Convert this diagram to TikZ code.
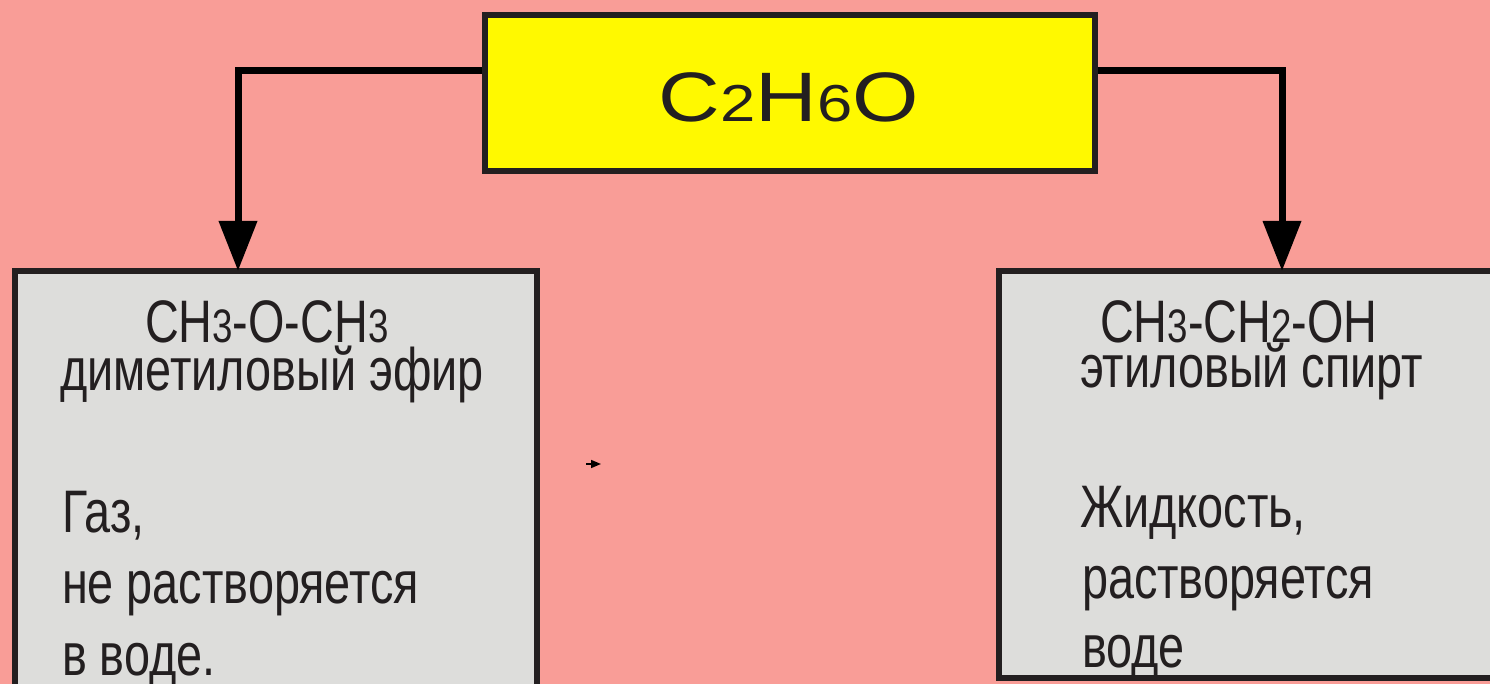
\documentclass[tikz,border=0pt]{standalone}
\usepackage{fontspec}
\setmainfont{Liberation Sans}
\newfontfamily\narrow[FakeStretch=0.78]{Liberation Sans}
\newfontfamily\wide[FakeStretch=1.22]{Liberation Sans}
\usetikzlibrary{arrows.meta}
\definecolor{bgpink}{RGB}{249,157,151}
\definecolor{boxyellow}{RGB}{255,249,0}
\definecolor{boxgray}{RGB}{221,221,219}
\definecolor{edge}{RGB}{35,31,32}
\newcommand{\lbl}{\narrow\fontsize{60}{60}\selectfont}
\newcommand{\sbd}[1]{{\fontsize{47}{47}\selectfont #1}}
\tikzset{
  box/.style={draw=edge, line width=6pt, rectangle, inner sep=0pt, outer sep=0pt, anchor=north west},
  txt/.style={anchor=base west, inner sep=0pt, outer sep=0pt, text=edge, font=\lbl},
  conn/.style={line width=7pt, -{Triangle[length=50pt,width=37pt]}, line join=miter},
}
\begin{document}
\begin{tikzpicture}[x=1pt,y=1pt]
\useasboundingbox (0,0) rectangle (1490,-684);
\clip (0,0) rectangle (1490,-684);
\fill[bgpink] (0,0) rectangle (1490,-684);
% boxes
\node[box, fill=boxyellow, minimum width=610pt, minimum height=156pt] (top) at (485,-15) {};
\node[box, fill=boxgray, minimum width=522pt, minimum height=460pt] (lbox) at (15,-271) {};
\node[box, fill=boxgray, minimum width=520pt, minimum height=407pt] (rbox) at (999,-271) {};
% formula
\node[anchor=base, inner sep=0pt, text=edge] (formula) at (789,-122)
  {\wide\fontsize{70}{70}\selectfont C{\fontsize{52}{52}\selectfont 2}H{\fontsize{52}{52}\selectfont 6}O};
% connectors
\coordinate (L) at (238,-71);
\coordinate (R) at (1282,-71);
\draw[conn] ([xshift=-3pt]top.west |- L) -- (L) -- (L |- lbox.north);
\draw[conn] ([xshift=3pt]top.east |- R) -- (R) -- (R |- rbox.north);
% small stray arrow
\coordinate (sa) at (586,-464);
\coordinate (sb) at (601,-464);
\draw[line width=1.5pt, -{Triangle[length=10pt,width=8pt]}] (sa) -- (sb);
% left texts
\node[txt] (l1) at (145,-342) {CH\sbd{3}-O-CH\sbd{3}};
\node[txt] (l2) at (60,-390) {диметиловый эфир};
\node[txt] (l3) at (62,-532) {Газ,};
\node[txt] (l4) at (62,-603) {не растворяется};
\node[txt] (l5) at (62,-675) {в воде.};
% right texts
\node[txt] (r1) at (1100,-342) {CH\sbd{3}-CH\sbd{2}-OH};
\node[txt] (r2) at (1080,-387) {этиловый спирт};
\node[txt] (r3) at (1080,-527) {Жидкость,};
\node[txt] (r4) at (1082,-598) {растворяется};
\node[txt] (r5) at (1082,-667) {воде};
\end{tikzpicture}
\end{document}
